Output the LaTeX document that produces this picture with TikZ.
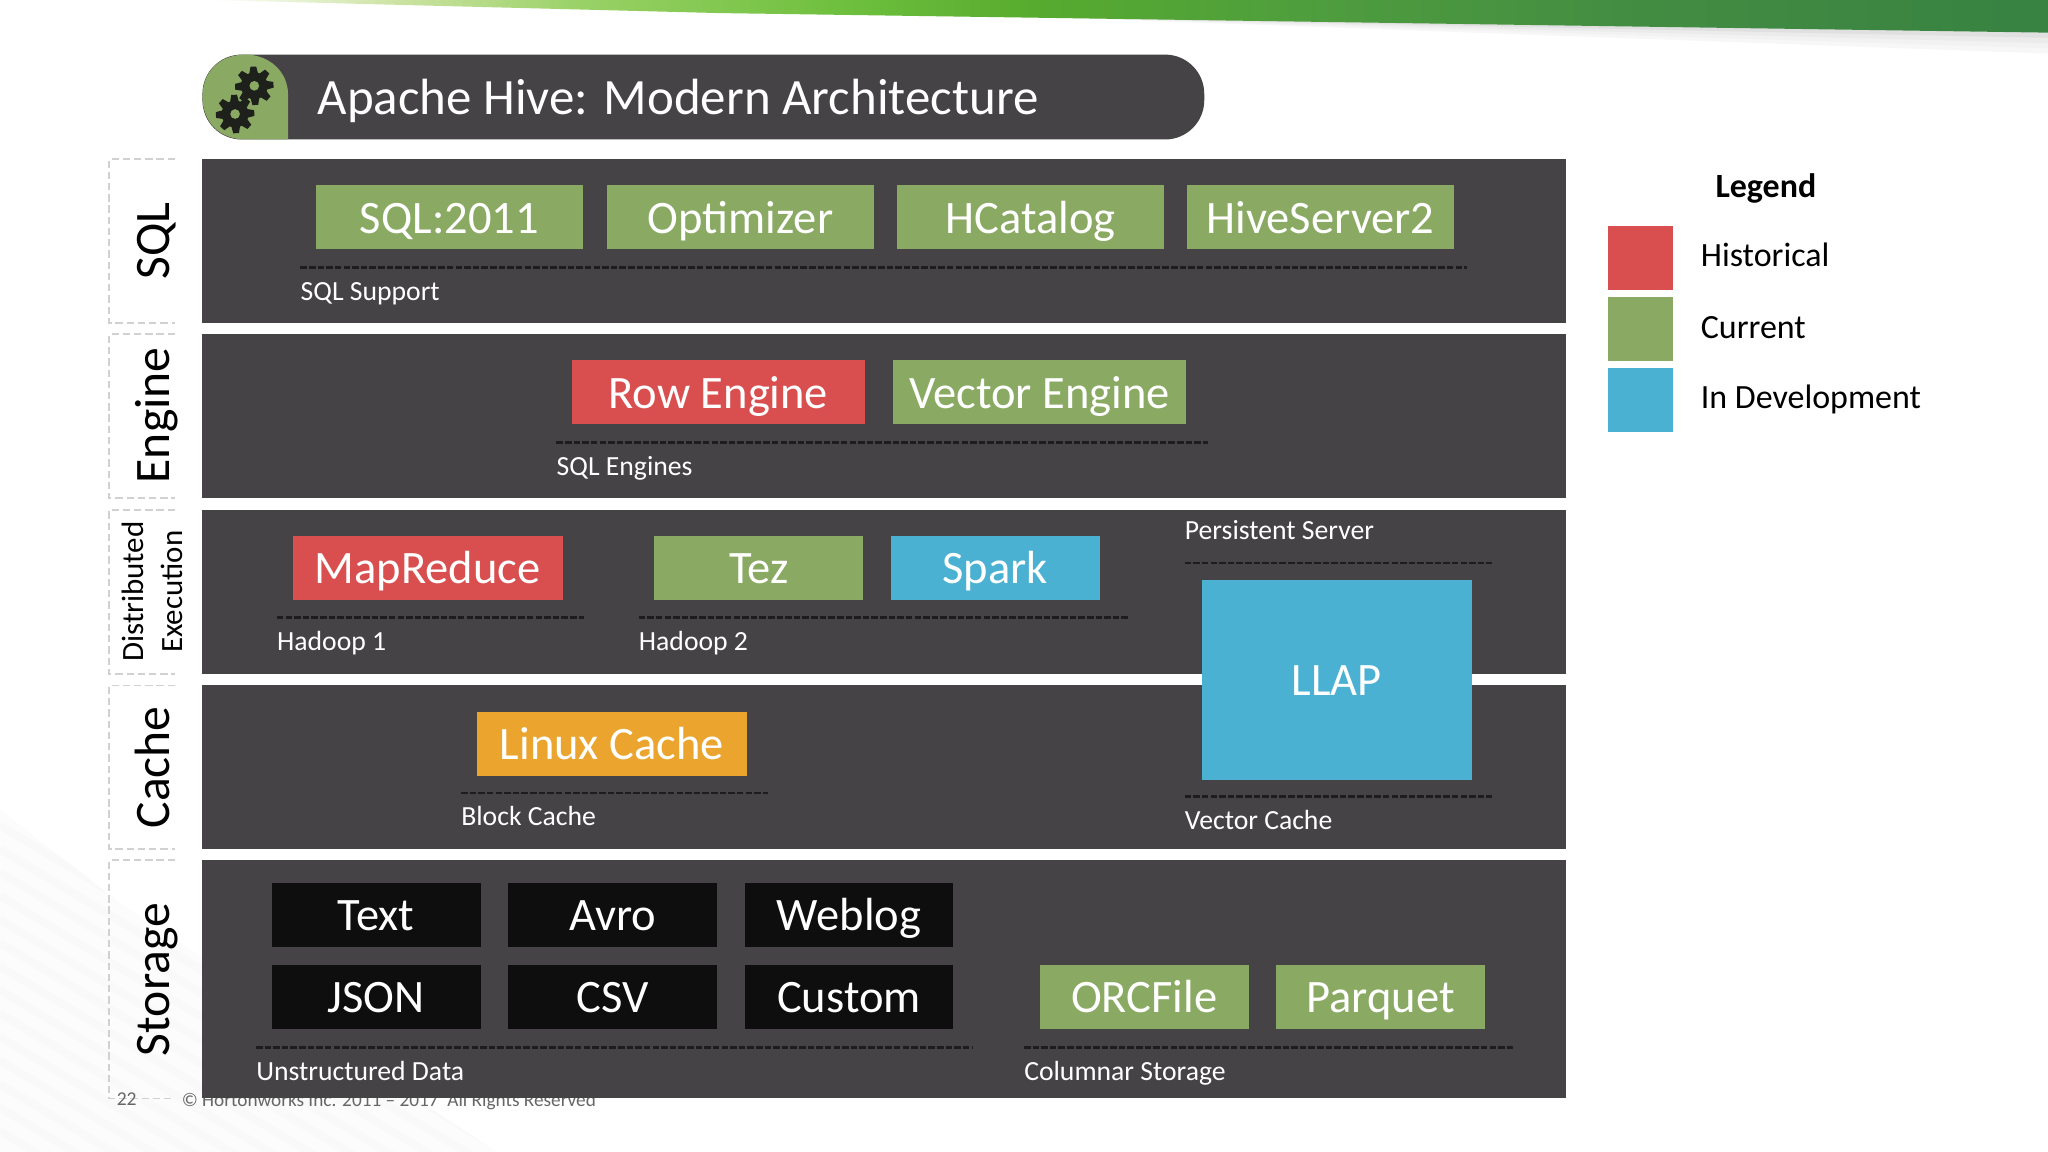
\documentclass[tikz,border=0pt]{standalone}
\usepackage{fontspec}
\usepackage{xcolor}
\setmainfont{Carlito}
\definecolor{panelgray}{RGB}{69,67,69}
\definecolor{currentgreen}{RGB}{138,170,100}
\definecolor{historicalred}{RGB}{217,79,79}
\definecolor{devblue}{RGB}{75,177,211}
\definecolor{cacheorange}{RGB}{235,165,47}
\definecolor{formatblack}{RGB}{15,14,15}
\definecolor{dashdark}{RGB}{30,28,30}
\definecolor{geardark}{RGB}{30,32,28}
\pgfdeclarehorizontalshading{bandshade}{100bp}{
  rgb(0bp)=(1,1,1);
  rgb(26bp)=(1,1,1);
  rgb(31bp)=(0.80,0.89,0.64);
  rgb(36bp)=(0.60,0.82,0.40);
  rgb(43bp)=(0.43,0.75,0.24);
  rgb(48bp)=(0.34,0.67,0.18);
  rgb(55bp)=(0.31,0.62,0.24);
  rgb(64bp)=(0.26,0.55,0.26);
  rgb(75bp)=(0.22,0.51,0.26);
  rgb(100bp)=(0.22,0.51,0.26)}
\begin{document}
\begin{tikzpicture}[x=1pt,y=-1pt]
\tikzstyle{layer} = [rectangle, fill=panelgray, inner sep=0pt, minimum width=1044pt, anchor=north west]
\tikzstyle{boxtext} = [rectangle, text=white, inner sep=0pt, text height=32pt, text depth=8pt, font=\fontsize{35.6}{40}\selectfont]
\tikzstyle{current} = [boxtext, fill=currentgreen, minimum height=49pt]
\tikzstyle{historical} = [boxtext, fill=historicalred, minimum height=49pt]
\tikzstyle{indev} = [boxtext, fill=devblue, minimum height=49pt]
\tikzstyle{cache} = [boxtext, fill=cacheorange, minimum height=49pt]
\tikzstyle{format} = [boxtext, fill=formatblack, minimum width=160pt, minimum height=49pt]
\tikzstyle{sublabel} = [text=white, inner sep=0pt, anchor=base west, font=\fontsize{21.2}{26}\selectfont]
\tikzstyle{dashline} = [dashdark, line width=2pt, dash pattern=on 5pt off 1.6pt]
\tikzstyle{sidebox} = [black!18, line width=1.4pt, dash pattern=on 5.6pt off 3pt]
\tikzstyle{sidelabel} = [rotate=90, inner sep=0pt, anchor=base, text=black, font=\fontsize{38}{44}\selectfont]
\tikzstyle{sidesmall} = [rotate=90, inner sep=0pt, anchor=base, text=black, font=\fontsize{23.7}{28}\selectfont]
\tikzstyle{legendtext} = [text=black, inner sep=0pt, anchor=base west, font=\fontsize{26}{30}\selectfont]
\tikzstyle{legendbox} = [rectangle, inner sep=0pt, minimum width=50pt, minimum height=49pt]

\useasboundingbox (0,0) rectangle (1568,882);
\fill[white] (0,0) rectangle (1568,882);

\begin{scope}
\clip (0,620) -- (90,690) -- (380,882) -- (0,882) -- cycle;
\fill[black!1] (0,560) rectangle (400,882);
\foreach \d in {560,578,...,920} {
  \draw[black!2.5,line width=6pt] (0,\d) -- (400,\d+240);
}
\end{scope}

\foreach \d/\c in {16/3,12/5,8/8,4/12} {
  \fill[black!\c] (800,13) -- (1568,25) -- (1568,25+\d) -- cycle;
}
\shade[shading=bandshade] (130,0) -- (1568,0) -- (1568,25) -- (1000,16.6) -- (550,10) -- (160,0) -- cycle;

\node(titleBar) [rectangle, fill=panelgray, rounded corners=30pt, minimum width=767pt, minimum height=65pt, inner sep=0pt] at (538.5,74.3) {};
\fill[currentgreen] (220.5,106.8) -- (220.5,72) .. controls (220.5,55) and (206,41.8) .. (188,41.8) .. controls (168,41.8) and (155,55) .. (155,74.3) .. controls (155,93) and (168,106.8) .. (188,106.8) -- cycle;
\foreach \gx/\gy in {194.7/65.7,180/87.3} {
  \foreach \a in {0,45,...,315} {
    \fill[geardark,rotate around={\a+3:(\gx,\gy)}] (\gx-3.4,\gy-9) -- (\gx-2.2,\gy-14.7) -- (\gx+2.2,\gy-14.7) -- (\gx+3.4,\gy-9) -- cycle;
  }
  \fill[geardark] (\gx,\gy) circle (10.3);
  \fill[currentgreen] (\gx,\gy) circle (3.7);
}
\node(titleText) [text=white, inner sep=0pt, anchor=base west, font=\fontsize{39}{44}\selectfont] at (243,88) {Apache Hive: Modern Architecture};

\foreach \ya/\yb in {121.8/247,256/381.3,390.5/515.8,524.8/650,658.5/841} {
  \draw[sidebox] (134,\ya) -- (83.5,\ya) -- (83.5,\yb) -- (134,\yb);
}
\node(pageNumber) [text=black!60, inner sep=0pt, font=\fontsize{15}{18}\selectfont] at (97,841.5) {22};
\node(copyright) [text=black!60, inner sep=0pt, anchor=west, font=\fontsize{14.75}{18}\selectfont] at (139,843) {© Hortonworks Inc. 2011 – 2017\ \ All Rights Reserved};

\node(sqlLayer) [layer, minimum height=125.2pt] at (154.7,121.6) {};
\node(engineLayer) [layer, minimum height=125.2pt] at (154.7,255.7) {};
\node(execLayer) [layer, minimum height=125.5pt] at (154.7,390) {};
\node(cacheLayer) [layer, minimum height=125.3pt] at (154.7,524.5) {};
\node(storageLayer) [layer, minimum height=181.8pt] at (154.7,658.4) {};

\node(sqlSide) [sidelabel] at (129.5,184.5) {SQL};
\node(engineSide) [sidelabel] at (129.5,318) {Engine};
\node(distSide) [sidesmall] at (110,453) {Distributed};
\node(execSide) [sidesmall] at (139.5,453) {Execution};
\node(cacheSide) [sidelabel] at (129.5,587.5) {Cache};
\node(storageSide) [sidelabel] at (129.5,750) {Storage};

\node(sql2011) [current, minimum width=204pt] at (344,166.5) {SQL:2011};
\node(optimizer) [current, minimum width=204pt] at (567,166.5) {Optimizer};
\node(hcatalog) [current, minimum width=204pt] at (789,166.5) {HCatalog};
\node(hiveserver) [current, minimum width=204pt] at (1011,166.5) {HiveServer2};
\draw[dashline] (230,205) -- (1123,205);
\node(sqlSupport) [sublabel] at (230,230) {SQL Support};

\node(rowEngine) [historical, minimum width=224pt] at (550,300.5) {Row Engine};
\node(vectorEngine) [current, minimum width=224pt] at (796,300.5) {Vector Engine};
\draw[dashline] (426,339) -- (925,339);
\node(sqlEngines) [sublabel] at (426,364) {SQL Engines};

\node(mapreduce) [historical, minimum width=207pt] at (327.5,434.5) {MapReduce};
\node(tez) [current, minimum width=160pt] at (581,434.5) {Tez};
\node(spark) [indev, minimum width=160pt] at (762,434.5) {Spark};
\draw[dashline] (212,473) -- (447,473);
\draw[dashline] (489,473) -- (865,473);
\node(hadoopOne) [sublabel] at (212,498) {Hadoop 1};
\node(hadoopTwo) [sublabel] at (489,498) {Hadoop 2};

\node(persistent) [sublabel] at (907,413) {Persistent Server};
\draw[dashline] (907,431) -- (1142,431);
\node(llap) [indev, minimum width=207pt, minimum height=153pt] at (1023.5,520.5) {LLAP};
\draw[dashline] (907,610) -- (1142,610);
\node(vectorCache) [sublabel] at (907,635) {Vector Cache};

\node(linuxCache) [cache, minimum width=207pt] at (468.5,569.5) {Linux Cache};
\draw[dashline] (353,607) -- (588,607);
\node(blockCache) [sublabel] at (353,632) {Block Cache};

\node(textFmt) [format] at (288,700.5) {Text};
\node(avroFmt) [format] at (469,700.5) {Avro};
\node(weblogFmt) [format] at (650,700.5) {Weblog};
\node(jsonFmt) [format] at (288,763.5) {JSON};
\node(csvFmt) [format] at (469,763.5) {CSV};
\node(customFmt) [format] at (650,763.5) {Custom};
\node(orcFmt) [current, minimum width=160pt] at (876,763.5) {ORCFile};
\node(parquetFmt) [current, minimum width=160pt] at (1057,763.5) {Parquet};
\draw[dashline] (196,802) -- (744,802);
\draw[dashline] (784,802) -- (1160,802);
\node(unstructured) [sublabel] at (196,827) {Unstructured Data};
\node(columnar) [sublabel] at (784,827) {Columnar Storage};

\node(legendTitle) [text=black, inner sep=0pt, anchor=base, font=\bfseries\fontsize{26}{30}\selectfont] at (1352,151.5) {Legend};
\node(legendRed) [legendbox, fill=historicalred] at (1256,197.5) {};
\node(legendGreen) [legendbox, fill=currentgreen] at (1256,252) {};
\node(legendBlue) [legendbox, fill=devblue] at (1256,306.5) {};
\node(legendHist) [legendtext] at (1302,204) {Historical};
\node(legendCurr) [legendtext] at (1302,259) {Current};
\node(legendDev) [legendtext] at (1302,313) {In Development};
\end{tikzpicture}
\end{document}
